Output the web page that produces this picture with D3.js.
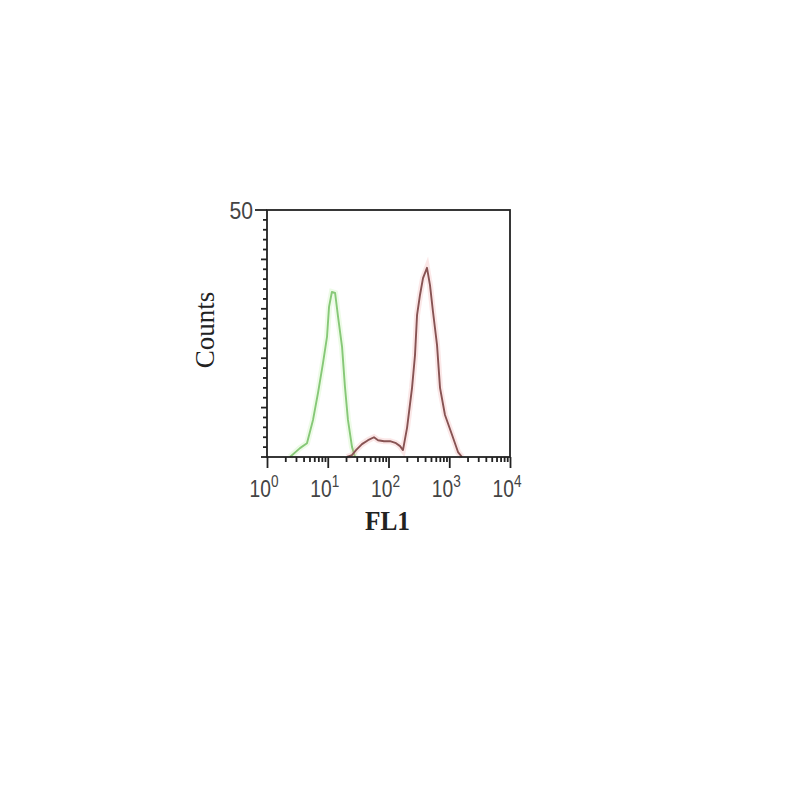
<!DOCTYPE html>
<html><head><meta charset="utf-8">
<script src="https://cdn.jsdelivr.net/npm/d3@7"></script>
<style>body{margin:0;background:#fff}svg{display:block}</style>
</head><body>
<svg id="c" width="800" height="800"></svg>
<script>
// Control (green) histogram: FL1 value, counts
const greenFL1 = [2.39, 3.49, 4.55, 5.72, 6.92, 8.35, 9.72, 10.5, 11.7, 13.2, 14.8, 17.2, 19.2, 21.5, 25.1, 28.1];
const greenCounts = [0, 1.8, 2.8, 7.5, 13.0, 19.0, 24.3, 30.4, 33.4, 33.2, 28.3, 22.3, 14.2, 7.5, 2.0, 0];
// Stained (red) histogram
const redFL1 = [20.7, 25.1, 29.2, 36.6, 46.0, 57.7, 67.2, 84.4, 106, 133, 155, 173, 202, 244, 273, 295, 330, 370, 430, 482, 540, 629, 705, 851, 1110, 1394, 1622];
const redCounts = [0, 0.4, 1.4, 2.6, 3.4, 4.0, 3.4, 3.2, 3.2, 2.8, 2.2, 1.4, 5.9, 14.0, 20.6, 28.7, 32.8, 36.2, 38.3, 34.8, 29.4, 22.7, 14.0, 8.5, 4.5, 1.0, 0];
const xDecades = [1, 10, 100, 1000, 10000];
const xExponents = ["0", "1", "2", "3", "4"];
const yLabelTicks = [50];

const svg = d3.select("#c");
const L = 267, R = 510, T = 210, B = 457;
const x = d3.scaleLog().domain([1, 10000]).range([L, R]);
const y = d3.scaleLinear().domain([0, 50]).range([B, T]);
const serif = "'Liberation Serif','Times New Roman',serif";
const sans = "'Liberation Sans',Arial,sans-serif";

// curves
const line = d3.line().x(d => x(d[0])).y(d => y(d[1]));
function drawCurve(xs, ys, color, halo) {
  const pts = xs.map((v, i) => [v, ys[i]]);
  svg.append("path").attr("d", line(pts)).attr("fill", "none")
    .attr("stroke", halo).attr("stroke-width", 6).attr("stroke-opacity", 0.25);
  svg.append("path").attr("d", line(pts)).attr("fill", "none")
    .attr("stroke", color).attr("stroke-width", 1.9).attr("stroke-linejoin", "round");
}
drawCurve(greenFL1, greenCounts, "#86c877", "#b8f0a0");
drawCurve(redFL1, redCounts, "#875353", "#f0a0a0");

// frame
svg.append("rect").attr("x", L).attr("y", T).attr("width", R - L).attr("height", B - T)
  .attr("fill", "none").attr("stroke", "#222").attr("stroke-width", 1.8);

// y ticks
const yMinor = d3.range(0, 50, 2);
const gy = svg.append("g");
gy.selectAll("line.m").data(yMinor).join("line")
  .attr("x1", L).attr("x2", d => L - (d % 10 === 0 ? 6 : 4))
  .attr("y1", d => y(d)).attr("y2", d => y(d)).attr("stroke", "#222").attr("stroke-width", 1.8);
gy.selectAll("line.M").data(yLabelTicks).join("line")
  .attr("x1", L).attr("x2", L - 12).attr("y1", d => y(d)).attr("y2", d => y(d))
  .attr("stroke", "#222").attr("stroke-width", 1.8);
gy.selectAll("text").data(yLabelTicks).join("text")
  .attr("transform", d => `translate(${L - 14},${y(d) + 9}) scale(0.88,1)`).attr("text-anchor", "end")
  .attr("font-family", sans).attr("font-size", 24).attr("fill", "#444").text(d => d);

// x ticks via axis
const minor = [];
for (let p = 0; p < 4; p++) for (let k = 2; k <= 9; k++) minor.push(k * Math.pow(10, p));
const gxMinor = svg.append("g").attr("transform", `translate(0,${B})`)
  .call(d3.axisBottom(x).tickValues(minor).tickSize(5).tickFormat(""));
const gxMajor = svg.append("g").attr("transform", `translate(0,${B})`)
  .call(d3.axisBottom(x).tickValues(xDecades).tickSize(11).tickFormat(""));
[gxMinor, gxMajor].forEach(g => {
  g.select(".domain").remove();
  g.selectAll("line").attr("stroke", "#222").attr("stroke-width", 1.8);
});
const lab = svg.append("g");
xDecades.forEach((v, i) => {
  const t = lab.append("text").attr("transform", `translate(${x(v) - 3},497) scale(0.8,1)`)
    .attr("text-anchor", "middle")
    .attr("font-family", sans).attr("font-size", 24).attr("fill", "#444");
  t.append("tspan").text("10");
  t.append("tspan").attr("dy", -10).attr("font-size", 17).text(xExponents[i]);
});

// axis titles
svg.append("text").attr("x", 365).attr("y", 530)
  .attr("font-family", serif).attr("font-size", 28).attr("font-weight", "bold")
  .attr("textLength", 45).attr("lengthAdjust", "spacingAndGlyphs")
  .attr("fill", "#222").text("FL1");
svg.append("text").attr("transform", "translate(214,330) rotate(-90)").attr("text-anchor", "middle")
  .attr("font-family", serif).attr("font-size", 27).attr("fill", "#222").text("Counts");
</script>
</body></html>
